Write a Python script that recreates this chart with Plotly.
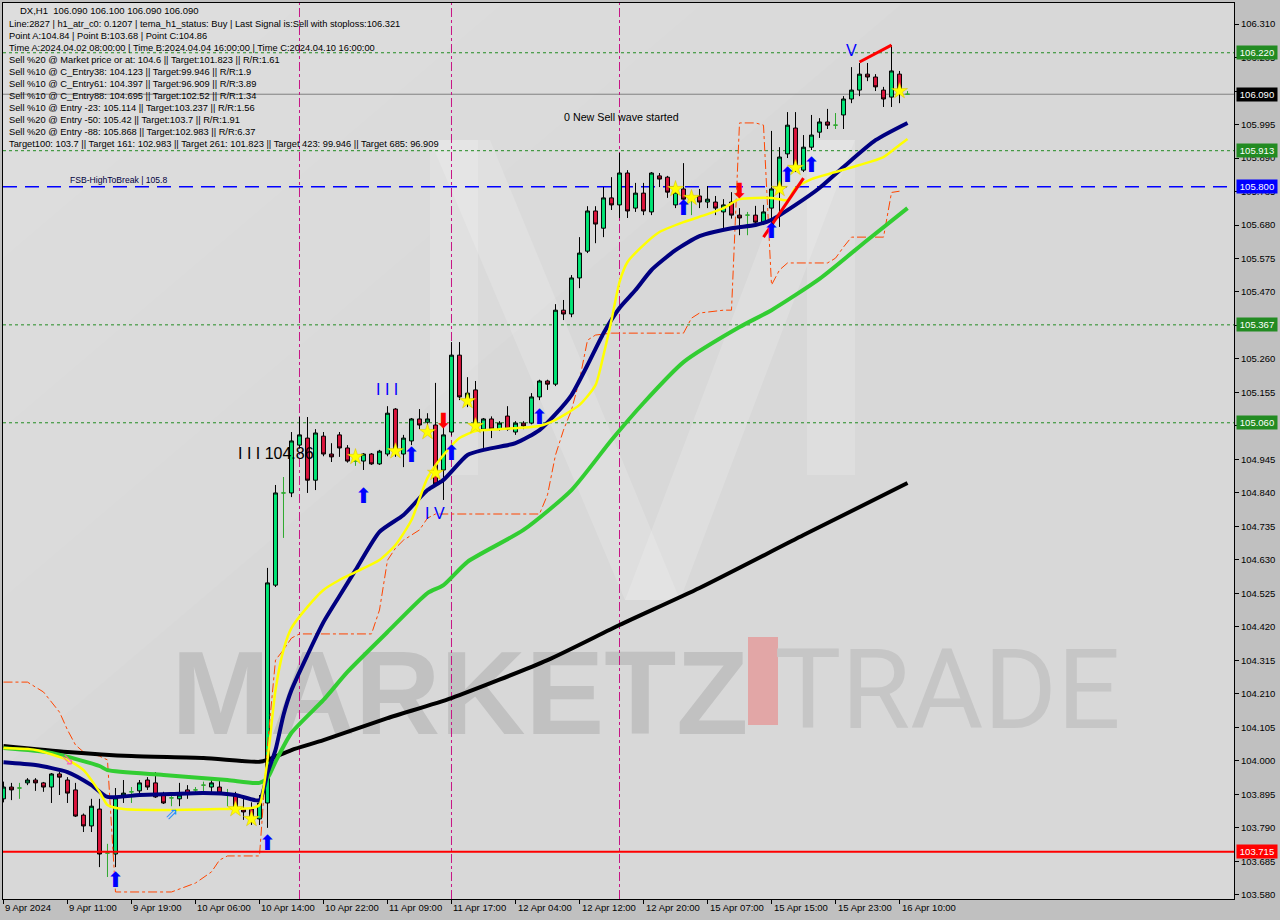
import plotly.graph_objects as go

# ---------------- data ----------------
opens = [103.881, 103.918, 103.915, 103.931, 103.940, 103.931, 103.918, 103.959, 103.940, 103.909,
         103.830, 103.796, 103.849, 103.711, 103.708, 103.893, 103.903, 103.906, 103.940, 103.931,
         103.893, 103.884, 103.881, 103.909, 103.909, 103.924, 103.918, 103.918, 103.896, 103.893,
         103.849, 103.849, 103.818, 103.868, 104.551, 104.840, 104.840, 104.990, 105.012, 104.880,
         105.018, 104.962, 105.022, 104.981, 104.940, 104.940, 104.962, 104.931, 104.962, 105.103,
         104.962, 105.003, 105.072, 105.062, 105.053, 104.912, 105.031, 105.272, 105.122, 105.163,
         105.040, 105.072, 105.040, 105.081, 105.031, 105.059, 105.059, 105.141, 105.191, 105.181,
         105.413, 105.401, 105.514, 105.598, 105.724, 105.670, 105.765, 105.743, 105.843, 105.733,
         105.780, 105.721, 105.834, 105.830, 105.743, 105.793, 105.765, 105.771, 105.752, 105.752,
         105.721, 105.752, 105.711, 105.711, 105.711, 105.689, 105.733, 105.799, 105.903, 105.984,
         105.852, 105.924, 105.971, 106.003, 105.993, 106.025, 106.075, 106.103, 106.153, 106.144,
         106.103, 106.081, 106.153, 106.090]
highs = [103.935, 103.931, 103.931, 103.946, 103.946, 103.934, 103.962, 103.965, 103.949, 103.931,
         103.835, 103.881, 103.881, 103.740, 103.915, 103.940, 103.918, 103.940, 103.949, 103.965,
         103.903, 103.899, 103.931, 103.924, 103.918, 103.935, 103.946, 103.946, 103.912, 103.903,
         103.884, 103.870, 103.893, 104.605, 104.865, 104.890, 105.031, 105.078, 105.078, 105.040,
         105.031, 104.996, 105.031, 104.990, 104.945, 104.965, 104.965, 104.975, 105.112, 105.106,
         105.022, 105.075, 105.103, 105.090, 105.185, 105.053, 105.313, 105.313, 105.203, 105.191,
         105.075, 105.080, 105.065, 105.112, 105.065, 105.065, 105.153, 105.195, 105.195, 105.432,
         105.445, 105.523, 105.642, 105.739, 105.739, 105.799, 105.830, 105.906, 105.852, 105.812,
         105.812, 105.846, 105.843, 105.834, 105.802, 105.874, 105.780, 105.793, 105.802, 105.771,
         105.761, 105.783, 105.733, 105.721, 105.740, 105.743, 105.975, 105.924, 106.034, 106.034,
         105.962, 106.025, 106.015, 106.044, 106.031, 106.084, 106.175, 106.188, 106.188, 106.153,
         106.113, 106.244, 106.163, 106.100]
lows = [103.870, 103.877, 103.881, 103.924, 103.906, 103.903, 103.868, 103.893, 103.868, 103.824,
        103.777, 103.777, 103.667, 103.636, 103.667, 103.868, 103.868, 103.899, 103.909, 103.884,
        103.865, 103.858, 103.858, 103.881, 103.893, 103.893, 103.899, 103.896, 103.858, 103.840,
        103.815, 103.799, 103.799, 103.790, 104.545, 104.699, 104.827, 104.980, 104.840, 104.849,
        104.955, 104.937, 104.953, 104.935, 104.925, 104.912, 104.928, 104.928, 104.955, 104.953,
        104.921, 104.990, 105.040, 105.040, 104.859, 104.818, 105.020, 105.131, 105.109, 105.045,
        104.981, 105.012, 105.035, 105.035, 105.022, 105.040, 105.055, 105.131, 105.163, 105.175,
        105.382, 105.391, 105.482, 105.592, 105.623, 105.642, 105.727, 105.702, 105.702, 105.721,
        105.711, 105.711, 105.799, 105.765, 105.733, 105.721, 105.711, 105.733, 105.733, 105.711,
        105.661, 105.700, 105.648, 105.648, 105.680, 105.680, 105.674, 105.674, 105.890, 105.846,
        105.846, 105.915, 105.953, 105.981, 105.981, 105.981, 106.062, 106.084, 106.131, 106.100,
        106.050, 106.050, 106.062, 106.090]
closes = [103.918, 103.909, 103.915, 103.940, 103.931, 103.918, 103.959, 103.949, 103.899, 103.827,
          103.796, 103.858, 103.708, 103.711, 103.884, 103.899, 103.903, 103.931, 103.918, 103.887,
          103.868, 103.884, 103.893, 103.896, 103.909, 103.924, 103.931, 103.899, 103.896, 103.849,
          103.840, 103.824, 103.868, 104.558, 104.840, 104.840, 105.003, 105.022, 104.880, 105.028,
          104.962, 104.953, 104.981, 104.940, 104.940, 104.962, 104.931, 104.971, 105.090, 104.968,
          105.012, 105.072, 105.053, 105.072, 104.868, 105.022, 105.272, 105.141, 105.153, 105.050,
          105.072, 105.040, 105.059, 105.040, 105.059, 105.050, 105.141, 105.191, 105.181, 105.413,
          105.401, 105.514, 105.592, 105.724, 105.683, 105.765, 105.743, 105.843, 105.724, 105.780,
          105.724, 105.843, 105.824, 105.783, 105.783, 105.761, 105.765, 105.752, 105.761, 105.733,
          105.743, 105.711, 105.702, 105.711, 105.689, 105.721, 105.793, 105.893, 105.993, 105.868,
          105.924, 105.962, 106.003, 105.993, 105.993, 106.075, 106.103, 106.153, 106.144, 106.113,
          106.075, 106.163, 106.103, 106.090]

# indicator lines read at selected bars (bar index, price)
black_x = [0, 8, 16, 25, 32, 33, 36, 40, 48, 56, 68, 77, 87, 100, 113]
black_y = [104.047, 104.028, 104.015, 104.009, 103.997, 104.003, 104.034, 104.065, 104.134,
           104.197, 104.316, 104.426, 104.542, 104.708, 104.871]
green_x = [0, 6, 12, 13, 20, 28, 32, 33, 34, 36, 40, 43, 48, 53, 55, 58, 65, 71, 76, 80, 85,
           92, 96, 102, 108, 113]
green_y = [104.040, 104.025, 103.984, 103.971, 103.956, 103.940, 103.931, 103.946, 103.997,
           104.088, 104.191, 104.279, 104.404, 104.526, 104.551, 104.624, 104.724, 104.849,
           105.006, 105.122, 105.250, 105.360, 105.413, 105.511, 105.633, 105.733]
navy_x = [0, 4, 8, 11, 13, 17, 21, 25, 29, 32, 33, 34, 35, 36, 38, 40, 42, 44, 47, 50, 53, 55,
          58, 60, 64, 67, 69, 71, 73, 75, 77, 79, 81, 84, 87, 91, 94, 96, 99, 102, 105, 109, 113]
navy_y = [103.996, 103.987, 103.965, 103.924, 103.887, 103.893, 103.896, 103.899, 103.893,
          103.877, 103.962, 104.034, 104.144, 104.222, 104.332, 104.435, 104.517, 104.598,
          104.718, 104.771, 104.849, 104.881, 104.959, 104.975, 104.996, 105.037, 105.087,
          105.147, 105.241, 105.341, 105.420, 105.476, 105.539, 105.601, 105.645, 105.670,
          105.680, 105.696, 105.743, 105.796, 105.862, 105.946, 106.000]
yellow_x = [0, 4, 8, 10, 12, 13, 15, 20, 27, 31, 32, 33, 34, 35, 36, 38, 40, 42, 44, 47, 49, 51,
            53, 55, 57, 59, 62, 67, 69, 72, 74, 75, 76, 77, 78, 80, 82, 85, 88, 90, 92, 96, 98,
            99, 101, 104, 107, 110, 112, 113]
yellow_y = [104.040, 104.034, 104.003, 103.971, 103.903, 103.862, 103.849, 103.846, 103.849,
            103.852, 103.862, 104.003, 104.222, 104.348, 104.417, 104.483, 104.536, 104.567,
            104.592, 104.630, 104.677, 104.755, 104.887, 104.959, 105.012, 105.034, 105.040,
            105.050, 105.069, 105.116, 105.178, 105.272, 105.382, 105.501, 105.564, 105.617,
            105.658, 105.689, 105.714, 105.733, 105.761, 105.765, 105.758, 105.796, 105.824,
            105.846, 105.868, 105.893, 105.931, 105.950]
stop_x = [0, 3, 5, 7, 8, 9, 10, 12, 13, 14, 21, 22, 24, 26, 27, 28, 32, 33, 34, 35, 36, 37, 46,
          47, 48, 49, 50, 51, 52, 53, 54, 67, 68, 69, 70, 71, 72, 73, 74, 76, 85, 86, 87, 90, 91,
          92, 94, 95, 96, 97, 98, 103, 104, 105, 106, 110, 111, 112]
stop_y = [104.247, 104.247, 104.216, 104.153, 104.097, 104.050, 104.028, 104.015, 104.003,
          103.589, 103.589, 103.598, 103.617, 103.652, 103.689, 103.702, 103.702, 104.050,
          104.316, 104.348, 104.385, 104.398, 104.398, 104.473, 104.629, 104.667, 104.692,
          104.708, 104.724, 104.761, 104.774, 104.774, 104.834, 104.959, 105.037, 105.100,
          105.194, 105.319, 105.335, 105.341, 105.341, 105.388, 105.404, 105.413, 105.413,
          106.000, 106.000, 105.993, 105.492, 105.539, 105.561, 105.561, 105.576, 105.611,
          105.642, 105.642, 105.782, 105.786]

buy_arrow_x = [14, 33, 45, 51, 56, 67, 85, 96, 98, 101]
buy_arrow_y = [103.620, 103.736, 104.824, 104.953, 104.959, 105.072, 105.727, 105.655, 105.830, 105.862]
sell_arrow_x = [55, 92]
sell_arrow_y = [105.059, 105.780]
star_x = [29, 31, 44, 49, 53, 54, 58, 59, 84, 86, 97, 99, 112]
star_y = [103.849, 103.818, 104.953, 104.971, 105.031, 104.903, 105.128, 105.050, 105.793,
          105.765, 105.793, 105.859, 106.100]

trend1_x = [95, 100]
trend1_y = [105.642, 105.827]
trend2_x = [107, 111]
trend2_y = [106.191, 106.244]

wave_marks = [("I I I", 48, 105.163), ("I V", 54, 104.777), ("V", 106, 106.228)]

level_green = [106.220, 105.913, 105.367, 105.060]
level_price = 106.090
level_fsb = 105.800
level_stop = 103.715
vlines_bars = [37, 56, 77]

ytick_vals = [106.310, 106.205, 106.100, 105.995, 105.890, 105.785, 105.680, 105.575, 105.470,
              105.365, 105.260, 105.155, 105.050, 104.945, 104.840, 104.735, 104.630, 104.525,
              104.420, 104.315, 104.210, 104.105, 104.000, 103.895, 103.790, 103.685, 103.580]
xtick_bars = [0, 8, 16, 24, 32, 40, 48, 56, 64, 72, 80, 88, 96, 104, 112]
xtick_labels = ["9 Apr 2024", "9 Apr 11:00", "9 Apr 19:00", "10 Apr 06:00", "10 Apr 14:00",
                "10 Apr 22:00", "11 Apr 09:00", "11 Apr 17:00", "12 Apr 04:00", "12 Apr 12:00",
                "12 Apr 20:00", "15 Apr 07:00", "15 Apr 15:00", "15 Apr 23:00", "16 Apr 10:00"]

header = "DX,H1\u00a0\u00a0106.090 106.100 106.090 106.090"
info_lines = [
    "Line:2827 | h1_atr_c0: 0.1207 | tema_h1_status: Buy | Last Signal is:Sell with stoploss:106.321",
    "Point A:104.84 | Point B:103.68 | Point C:104.86",
    "Time A:2024.04.02 08:00:00 | Time B:2024.04.04 16:00:00 | Time C:2024.04.10 16:00:00",
    "Sell %20 @ Market price or at: 104.6 || Target:101.823 || R/R:1.61",
    "Sell %10 @ C_Entry38: 104.123 || Target:99.946 || R/R:1.9",
    "Sell %10 @ C_Entry61: 104.397 || Target:96.909 || R/R:3.89",
    "Sell %10 @ C_Entry88: 104.695 || Target:102.52 || R/R:1.34",
    "Sell %10 @ Entry -23: 105.114 || Target:103.237 || R/R:1.56",
    "Sell %20 @ Entry -50: 105.42 || Target:103.7 || R/R:1.91",
    "Sell %20 @ Entry -88: 105.868 || Target:102.983 || R/R:6.37",
    "Target100: 103.7 || Target 161: 102.983 || Target 261: 101.823 || Target 423: 99.946 || Target 685: 96.909",
]

# ---------------- layout helpers ----------------
W, H = 1280, 920
ML, MR, MT, MB = 3, 46, 3, 21
PW, PH = W - ML - MR, H - MT - MB
X_RANGE = [-0.06, 153.81]
Y_RANGE = [103.567, 106.376]
FONT = "Liberation Sans, Arial, sans-serif"


def pxx(x):
    return (x - ML) / PW


def pxy(y):
    return 1 - (y - MT) / PH


def poly(points):
    return "M " + " L ".join("%.5f,%.5f" % (pxx(a), pxy(b)) for a, b in points) + " Z"


fig = go.Figure()

n = len(opens)
norm = [i for i in range(n) if opens[i] != closes[i]]
doji = [i for i in range(n) if opens[i] == closes[i]]


def pick(arr, idx):
    return [arr[i] for i in idx]


fig.add_trace(go.Candlestick(
    x=norm, open=pick(opens, norm), high=pick(highs, norm), low=pick(lows, norm),
    close=pick(closes, norm), whiskerwidth=0,
    increasing=dict(fillcolor="#00e676", line=dict(color="#000000", width=1)),
    decreasing=dict(fillcolor="#dc143c", line=dict(color="#000000", width=1)),
    hoverinfo="skip", showlegend=False))
fig.add_trace(go.Candlestick(
    x=doji, open=pick(opens, doji), high=pick(highs, doji), low=pick(lows, doji),
    close=pick(closes, doji), whiskerwidth=0,
    increasing=dict(fillcolor="#2fa82f", line=dict(color="#2fa82f", width=1)),
    decreasing=dict(fillcolor="#2fa82f", line=dict(color="#2fa82f", width=1)),
    hoverinfo="skip", showlegend=False))

# indicator lines
fig.add_trace(go.Scatter(x=stop_x, y=stop_y, mode="lines",
                         line=dict(color="#ff4500", width=1, dash="dashdot"), hoverinfo="skip"))
fig.add_trace(go.Scatter(x=black_x, y=black_y, mode="lines",
                         line=dict(color="#000000", width=4, shape="spline", smoothing=0.6),
                         hoverinfo="skip"))
fig.add_trace(go.Scatter(x=green_x, y=green_y, mode="lines",
                         line=dict(color="#32cd32", width=4, shape="spline", smoothing=0.6),
                         hoverinfo="skip"))
fig.add_trace(go.Scatter(x=navy_x, y=navy_y, mode="lines",
                         line=dict(color="#000080", width=4, shape="spline", smoothing=0.6),
                         hoverinfo="skip"))
fig.add_trace(go.Scatter(x=yellow_x, y=yellow_y, mode="lines",
                         line=dict(color="#ffff00", width=2.5, shape="spline", smoothing=0.6),
                         hoverinfo="skip"))
fig.add_trace(go.Scatter(x=trend1_x, y=trend1_y, mode="lines", line=dict(color="#ff0000", width=3),
                         hoverinfo="skip"))
fig.add_trace(go.Scatter(x=trend2_x, y=trend2_y, mode="lines", line=dict(color="#ff0000", width=3),
                         hoverinfo="skip"))

# markers
fig.add_trace(go.Scatter(x=star_x, y=star_y, mode="markers",
                         marker=dict(symbol="star", size=12, color="#ffff00",
                                     line=dict(color="#d8c000", width=0.5)), hoverinfo="skip"))
fig.add_trace(go.Scatter(x=buy_arrow_x, y=buy_arrow_y, mode="text", text=["\u2b06"] * len(buy_arrow_x),
                         textfont=dict(color="#0000ff", size=21, family="DejaVu Sans"), hoverinfo="skip"))
fig.add_trace(go.Scatter(x=sell_arrow_x, y=sell_arrow_y, mode="text", text=["\u2b07"] * len(sell_arrow_x),
                         textfont=dict(color="#ff0000", size=21, family="DejaVu Sans"), hoverinfo="skip"))
fig.add_trace(go.Scatter(x=[8], y=[104.000], mode="text", text=["\u21d8"],
                         textfont=dict(color="#ff69b4", size=16, family="DejaVu Sans"), hoverinfo="skip"))
fig.add_trace(go.Scatter(x=[21], y=[103.830], mode="text", text=["\u21d7"],
                         textfont=dict(color="#1e90ff", size=16, family="DejaVu Sans"), hoverinfo="skip"))

shapes = []
# soft top-left brightening (several faint nested washes) and faint "M" logo
for size, alpha in [(900, 0.05), (700, 0.05), (500, 0.05), (300, 0.05)]:
    shapes.append(dict(type="path", xref="paper", yref="paper", layer="below", line=dict(width=0),
                       fillcolor="rgba(255,255,255,%.2f)" % alpha,
                       path=poly([(3, 3), (3 + size, 3), (3, 3 + size * 0.85)])))
m_parts = [
    [(430, 140), (478, 140), (478, 475), (430, 475)],
    [(430, 140), (490, 140), (680, 600), (625, 600)],
    [(680, 600), (625, 600), (800, 140), (855, 140)],
    [(807, 140), (855, 140), (855, 475), (807, 475)],
]
for pts in m_parts:
    shapes.append(dict(type="path", xref="paper", yref="paper", layer="below", line=dict(width=0),
                       fillcolor="rgba(255,255,255,0.16)", path=poly(pts)))
# watermark text
shapes.append(dict(type="rect", xref="paper", yref="paper", x0=pxx(170), x1=pxx(750), y0=pxy(735),
                   y1=pxy(628), line=dict(width=0), fillcolor="rgba(0,0,0,0)", layer="below",
                   label=dict(text="<b>MARKETZ</b>", font=dict(size=118, color="#c1c1c1", family=FONT),
                              textposition="middle center")))
shapes.append(dict(type="rect", xref="paper", yref="paper", x0=pxx(748), x1=pxx(778), y0=pxy(725),
                   y1=pxy(637), line=dict(width=0), fillcolor="#e2a6a6", layer="below"))
shapes.append(dict(type="rect", xref="paper", yref="paper", x0=pxx(785), x1=pxx(1110), y0=pxy(735),
                   y1=pxy(628), line=dict(width=0), fillcolor="rgba(0,0,0,0)", layer="below",
                   label=dict(text="TRADE", font=dict(size=112, color="#c6c6c6", family="Roboto"),
                              textposition="middle center")))

for lv in level_green:
    shapes.append(dict(type="line", xref="paper", yref="y", x0=0, x1=1, y0=lv, y1=lv,
                       line=dict(color="#228b22", width=1, dash="3px,3px"), layer="below"))
shapes.append(dict(type="line", xref="paper", yref="y", x0=0, x1=1, y0=level_price, y1=level_price,
                   line=dict(color="#808080", width=1), layer="below"))
shapes.append(dict(type="line", xref="paper", yref="y", x0=0, x1=1, y0=level_fsb, y1=level_fsb,
                   line=dict(color="#0000ff", width=1.5, dash="14px,8px"), layer="below"))
shapes.append(dict(type="line", xref="paper", yref="y", x0=0, x1=1, y0=level_stop, y1=level_stop,
                   line=dict(color="#ff0000", width=2), layer="above"))
for vb in vlines_bars:
    shapes.append(dict(type="line", xref="x", yref="paper", x0=vb, x1=vb, y0=0, y1=1,
                       line=dict(color="#c71585", width=1, dash="dashdot"), layer="below"))

annotations = []
annotations.append(dict(xref="paper", yref="paper", x=pxx(18), y=pxy(11), text=header,
                        showarrow=False, xanchor="left", yanchor="middle",
                        font=dict(size=9.5, color="#000000", family=FONT)))
for k, line in enumerate(info_lines):
    annotations.append(dict(xref="paper", yref="paper", x=pxx(7), y=pxy(24 + 12 * k), text=line,
                            showarrow=False, xanchor="left", yanchor="middle",
                            font=dict(size=9.3, color="#000000", family=FONT)))
annotations.append(dict(xref="paper", yref="paper", x=pxx(562), y=pxy(117),
                        text="0 New Sell wave started", showarrow=False, xanchor="left",
                        yanchor="middle", font=dict(size=10.7, color="#000000", family=FONT)))
annotations.append(dict(xref="paper", yref="paper", x=pxx(68), y=pxy(180),
                        text="FSB-HighToBreak | 105.8", showarrow=False, xanchor="left",
                        yanchor="middle", font=dict(size=8.6, color="#000040", family=FONT)))
annotations.append(dict(xref="paper", yref="paper", x=pxx(236), y=pxy(453),
                        text="I I I 104.86", showarrow=False, xanchor="left",
                        yanchor="middle", font=dict(size=16, color="#000000", family=FONT)))
for txt, bx, by in wave_marks:
    annotations.append(dict(xref="x", yref="y", x=bx, y=by, text=txt, showarrow=False,
                            xanchor="center", yanchor="middle",
                            font=dict(size=16, color="#0000ff", family=FONT)))

# date labels
for b, lab in zip(xtick_bars, xtick_labels):
    annotations.append(dict(xref="x", yref="paper", x=b, y=pxy(907), text=lab, showarrow=False,
                            xanchor="left", yanchor="middle", xshift=0,
                            font=dict(size=9.5, color="#000000", family=FONT)))

# price boxes on the right axis
boxes = [(level_green[0], "#228b22"), (level_price, "#000000"), (level_green[1], "#228b22"),
         (level_fsb, "#0000ff"), (level_green[2], "#228b22"), (level_green[3], "#228b22"),
         (level_stop, "#ff0000")]
for val, col in boxes:
    annotations.append(dict(xref="paper", yref="y", x=pxx(1236), y=val, text="%.3f" % val,
                            showarrow=False, xanchor="left", yanchor="middle", bgcolor=col,
                            width=38, height=11, borderpad=1,
                            font=dict(size=9.5, color="#ffffff", family=FONT)))

fig.update_layout(
    width=W, height=H,
    margin=dict(l=ML, r=MR, t=MT, b=MB, autoexpand=False),
    paper_bgcolor="#c0c0c0", plot_bgcolor="#d8d8d8",
    showlegend=False,
    shapes=shapes, annotations=annotations,
    xaxis=dict(range=X_RANGE, showgrid=False, zeroline=False, rangeslider=dict(visible=False),
               tickvals=xtick_bars, showticklabels=False, ticks="outside", ticklen=4,
               tickcolor="#000000", showline=True, linecolor="#000000", linewidth=1, mirror=True,
               fixedrange=True),
    yaxis=dict(range=Y_RANGE, side="right", showgrid=False, zeroline=False,
               tickvals=ytick_vals, ticktext=["%.3f" % v for v in ytick_vals],
               ticks="outside", ticklen=4, tickcolor="#000000",
               tickfont=dict(size=9.5, color="#000000", family=FONT),
               showline=True, linecolor="#000000", linewidth=1, mirror=True, fixedrange=True),
)

fig.write_html("out.html", config={"displayModeBar": False},
               post_script="document.body.style.margin='0';document.body.style.overflow='hidden';")
